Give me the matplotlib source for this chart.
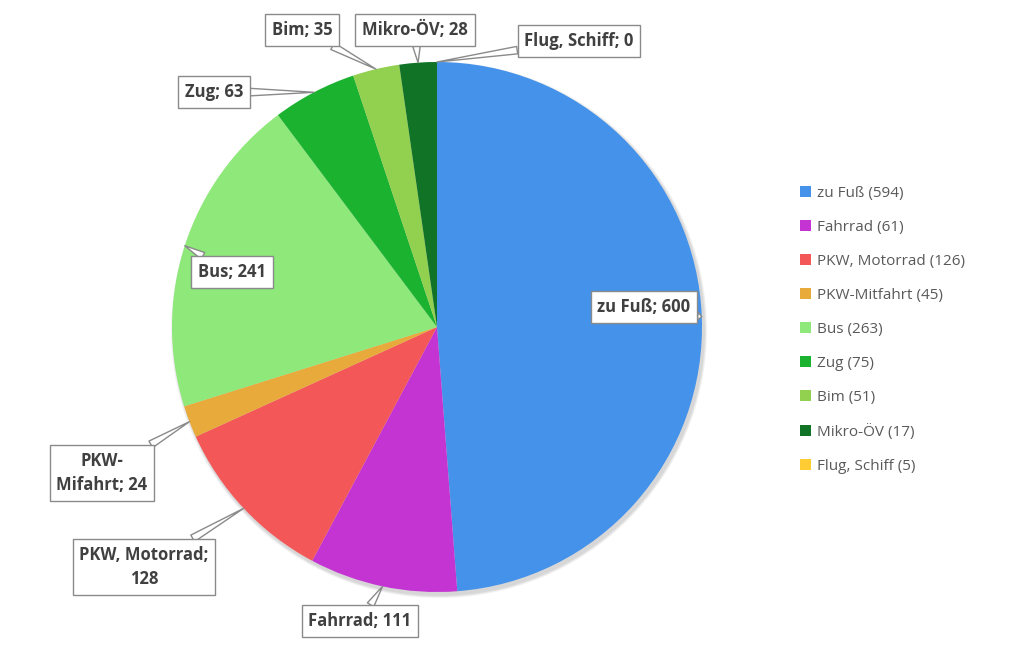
import numpy as np
import matplotlib
matplotlib.use("Agg")
import matplotlib.pyplot as plt
from matplotlib.patches import Circle

# ---- data ----
categories = ["zu Fuß", "Fahrrad", "PKW, Motorrad", "PKW-Mifahrt", "Bus",
              "Zug", "Bim", "Mikro-ÖV", "Flug, Schiff"]
values = [600, 111, 128, 24, 241, 63, 35, 28, 0]
label_texts = ["zu Fuß; 600", "Fahrrad; 111", "PKW, Motorrad;\n128", "PKW-\nMifahrt; 24",
               "Bus; 241", "Zug; 63", "Bim; 35", "Mikro-ÖV; 28", "Flug, Schiff; 0"]
legend_labels = ["zu Fuß (594)", "Fahrrad (61)", "PKW, Motorrad (126)", "PKW-Mitfahrt (45)",
                 "Bus (263)", "Zug (75)", "Bim (51)", "Mikro-ÖV (17)", "Flug, Schiff (5)"]
colors = ["#4492EA", "#C334D3", "#F45757", "#E8AA3A", "#8EE87A",
          "#1AB22F", "#92D050", "#107326", "#FFCC33"]

# label box centres in pixel coords (x, y from top)
box_pos = [(644, 307), (360, 621), (144, 567), (102, 473), (232, 272),
           (214, 92), (302, 30), (415, 30), (579, 41)]

W, H = 1024, 655
CX, CY, R = 437, H - 327, 265

plt.rcParams['font.family'] = ['Open Sans', 'DejaVu Sans']

fig = plt.figure(figsize=(W / 100, H / 100), dpi=100)
ax = fig.add_axes([0, 0, 1, 1])

# soft shadow
for k, a in enumerate([0.05, 0.05, 0.06]):
    ax.add_patch(Circle((CX + 2, CY - 3), R + 3 - k, color='black', alpha=a, lw=0, zorder=0))

wedges, _ = ax.pie(values, colors=colors, startangle=90, counterclock=False,
                   center=(CX, CY), radius=R, frame=True,
                   wedgeprops=dict(linewidth=0))
ax.set_xlim(0, W)
ax.set_ylim(0, H)
ax.set_aspect('equal')
ax.axis('off')

for w, txt, (bx, by) in zip(wedges, label_texts, box_pos):
    ang = np.deg2rad((w.theta1 + w.theta2) / 2)
    tip = (CX + R * np.cos(ang), CY + R * np.sin(ang))
    ax.annotate(txt, xy=tip, xytext=(bx, H - by), ha='center', va='center',
                fontsize=12, fontweight='bold', color='#404040', linespacing=1.5,
                bbox=dict(boxstyle='square,pad=0.4', fc='white', ec='#8a8a8a', lw=1),
                arrowprops=dict(arrowstyle='wedge,tail_width=0.45', fc='white',
                                ec='#8a8a8a', lw=1, shrinkA=0, shrinkB=0),
                zorder=5)

ax.legend(wedges, legend_labels, loc='upper left', bbox_to_anchor=(0.768, 0.737),
          frameon=False, fontsize=11, handlelength=0.7, handleheight=0.7,
          handletextpad=0.4, labelspacing=1.24, labelcolor='#595959')

fig.savefig("out.png", dpi=100)
